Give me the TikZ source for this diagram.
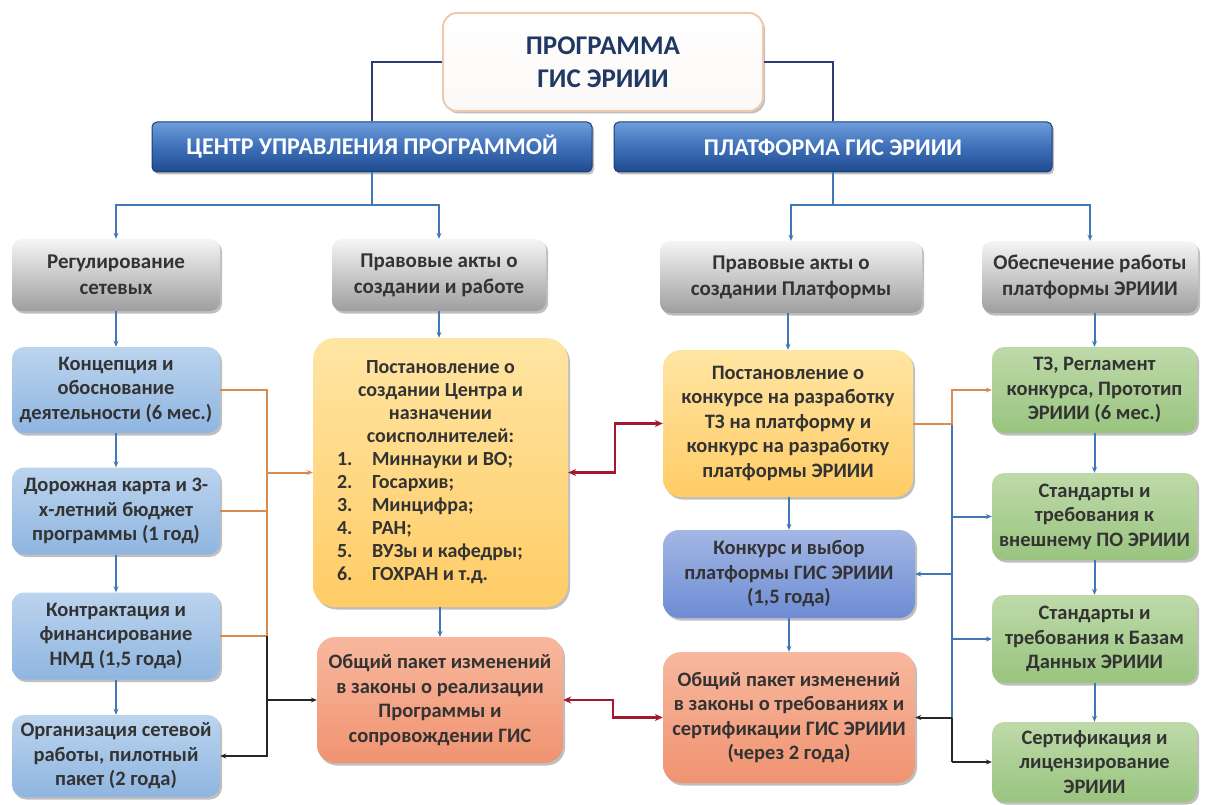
\documentclass[tikz,border=0pt]{standalone}
\usepackage{fontspec}
\setmainfont{Carlito}
\usetikzlibrary{arrows.meta,shadows}
\definecolor{navy}{HTML}{2E3A78}
\definecolor{topt}{HTML}{1F3864}
\definecolor{txt}{HTML}{333333}
\definecolor{conblue}{HTML}{3F78B4}
\definecolor{conora}{HTML}{D98A4E}
\definecolor{conblk}{HTML}{262626}
\definecolor{conred}{HTML}{A3172F}
\definecolor{hdtop}{HTML}{6E9DDB}
\definecolor{hdmid}{HTML}{3E70B9}
\definecolor{hdbot}{HTML}{1F4B8E}
\definecolor{hdline}{HTML}{1B3D74}
\definecolor{grtop}{HTML}{F5F5F5}
\definecolor{grmid}{HTML}{D6D6D6}
\definecolor{grbot}{HTML}{9E9E9E}
\definecolor{lbtop}{HTML}{BBD4EE}
\definecolor{lbbot}{HTML}{8FB5E0}
\definecolor{yetop}{HTML}{FFE5A3}
\definecolor{yebot}{HTML}{FFCC66}
\definecolor{satop}{HTML}{F8B89E}
\definecolor{sabot}{HTML}{F09371}
\definecolor{putop}{HTML}{A3B7E4}
\definecolor{pubot}{HTML}{6E8CD4}
\definecolor{gntop}{HTML}{BEDAA9}
\definecolor{gnbot}{HTML}{99C47F}
\begin{document}
\begin{tikzpicture}[x=1pt,y=-1pt,
  shad/.style={drop shadow={shadow xshift=2pt,shadow yshift=-2.5pt,opacity=0.25,fill=black}},
  basebox/.style={rounded corners=12pt, align=center, inner sep=4pt, text=txt,
     font=\bfseries\fontsize{20.5}{24.5}\selectfont, shad},
  topbox/.style={basebox, rounded corners=14pt, draw=conora!45, line width=2pt,
     top color=white, bottom color=grtop!80!conora!20, text=topt,
     font=\bfseries\fontsize{27}{33}\selectfont},
  hdbox/.style={rounded corners=5pt, draw=hdline, line width=1pt, text=white,
     top color=hdtop, bottom color=hdbot, middle color=hdmid,
     font=\bfseries\fontsize{24}{28}\selectfont, shad, inner sep=3pt},
  greybox/.style={basebox, rounded corners=10pt, top color=grtop, middle color=grmid, bottom color=grbot,
     font=\bfseries\fontsize{21}{26}\selectfont},
  lbbox/.style={basebox, top color=lbtop, bottom color=lbbot},
  yebox/.style={basebox, rounded corners=22pt, top color=yetop, bottom color=yebot},
  sabox/.style={basebox, rounded corners=18pt, top color=satop, bottom color=sabot},
  pubox/.style={basebox, rounded corners=16pt, top color=putop, bottom color=pubot},
  gnbox/.style={basebox, top color=gntop, bottom color=gnbot},
  tip/.style={-{Stealth[length=6pt,width=5pt]}},
  navyline/.style={draw=navy, line width=2.4pt},
  bline/.style={draw=conblue, line width=2pt},
  oline/.style={draw=conora, line width=2pt},
  kline/.style={draw=conblk, line width=2pt},
  rline/.style={draw=conred, line width=2.4pt, {Stealth[length=8pt,width=7pt]}-{Stealth[length=8pt,width=7pt]}}
]
\useasboundingbox (0,0) rectangle (1208,805);

% top
\node[topbox, minimum width=320pt, minimum height=98pt] (top) at (603,62) {ПРОГРАММА\\ГИС ЭРИИИ};
\node[hdbox, minimum width=440pt, minimum height=50pt] (h1) at (372,147) {ЦЕНТР УПРАВЛЕНИЯ ПРОГРАММОЙ};
\node[hdbox, minimum width=438pt, minimum height=50pt] (h2) at (833,147) {ПЛАТФОРМА ГИС ЭРИИИ};

% grey row
\node[greybox, minimum width=208pt, minimum height=72pt] (reg) at (116,275) {Регулирование\\сетевых};
\node[greybox, minimum width=214pt, minimum height=72pt] (pa1) at (439,275) {Правовые акты о\\создании и работе};
\node[greybox, minimum width=262pt, minimum height=72pt] (pa2) at (791,277) {Правовые акты о\\создании Платформы};
\node[greybox, minimum width=216pt, minimum height=72pt] (obs) at (1090,277) {Обеспечение работы\\платформы ЭРИИИ};

% left column
\node[lbbox, minimum width=208pt, minimum height=86pt] (konc) at (116,390) {Концепция и\\обоснование\\деятельности (6 мес.)};
\node[lbbox, minimum width=208pt, minimum height=87pt] (dor) at (116,511) {Дорожная карта и 3-\\х-летний бюджет\\программы (1 год)};
\node[lbbox, minimum width=208pt, minimum height=87pt] (kontr) at (116,636) {Контрактация и\\финансирование\\НМД (1,5 года)};
\node[lbbox, minimum width=208pt, minimum height=82pt] (org) at (116,756) {Организация сетевой\\работы, пилотный\\пакет (2 года)};

% middle left
\node[yebox, minimum width=255pt, minimum height=269pt, text width=237pt, align=left, inner sep=0pt,
      font=\bfseries\fontsize{20}{23}\selectfont] (post1) at (440.5,472.5) {%
  \spaceskip=0pt\xspaceskip=0pt
  {\centering Постановление о\\создании Центра и\\назначении\\соисполнителей:\par}%
  \raggedright\spaceskip=0pt\xspaceskip=0pt
  \hspace*{15pt}\makebox[35pt][l]{1.}Миннауки и ВО;\\
  \hspace*{15pt}\makebox[35pt][l]{2.}Госархив;\\
  \hspace*{15pt}\makebox[35pt][l]{3.}Минцифра;\\
  \hspace*{15pt}\makebox[35pt][l]{4.}РАН;\\
  \hspace*{15pt}\makebox[35pt][l]{5.}ВУЗы и кафедры;\\
  \hspace*{15pt}\makebox[35pt][l]{6.}ГОХРАН и т.д.\par};
\node[sabox, minimum width=246pt, minimum height=126pt] (sal1) at (440,700) {Общий пакет изменений\\в законы о реализации\\Программы и\\сопровождении ГИС};

% middle right
\node[yebox, rounded corners=18pt, minimum width=250pt, minimum height=147pt] (post2) at (788,423.5) {Постановление о\\конкурсе на разработку\\ТЗ на платформу и\\конкурс на разработку\\платформы ЭРИИИ};
\node[pubox, minimum width=252pt, minimum height=88pt] (kon) at (789,574) {Конкурс и выбор\\платформы ГИС ЭРИИИ\\(1,5 года)};
\node[sabox, minimum width=252pt, minimum height=131pt] (sal2) at (789,717.5) {Общий пакет изменений\\в законы о требованиях и\\сертификации ГИС ЭРИИИ\\(через 2 года)};

% right column
\node[gnbox, minimum width=205pt, minimum height=86pt] (g1) at (1094.5,390) {ТЗ, Регламент\\конкурса, Прототип\\ЭРИИИ (6 мес.)};
\node[gnbox, minimum width=205pt, minimum height=87pt] (g2) at (1094.5,516.5) {Стандарты и\\требования к\\внешнему ПО ЭРИИИ};
\node[gnbox, minimum width=205pt, minimum height=88pt] (g3) at (1094.5,639) {Стандарты и\\требования к Базам\\Данных ЭРИИИ};
\node[gnbox, minimum width=205pt, minimum height=80pt] (g4) at (1094.5,762) {Сертификация и\\лицензирование\\ЭРИИИ};

% top connectors
\draw[navyline] (top.west) -| (h1.north);
\draw[navyline] (top.east) -| (h2.north);

% tree connectors
\coordinate (j1) at (372,205);
\coordinate (j2) at (833,205);
\draw[bline] (h1.south) -- (j1);
\draw[bline,tip] (j1) -| (reg.north);
\draw[bline,tip] (j1) -| (pa1.north);
\draw[bline] (h2.south) -- (j2);
\draw[bline,tip] (j2) -| (pa2.north);
\draw[bline,tip] (j2) -| (obs.north);

% vertical chains
\draw[bline,tip] (reg.south) -- (konc.north);
\draw[bline,tip] (konc.south) -- (dor.north);
\draw[bline,tip] (dor.south) -- (kontr.north);
\draw[bline,tip] (kontr.south) -- (org.north);
\draw[bline,tip] (pa1.south) -- (pa1.south |- post1.north);
\draw[bline,tip] (post1.south -| sal1.north) -- (sal1.north);
\draw[bline,tip] (pa2.south -| post2.north) -- (post2.north);
\draw[bline,tip] (post2.south -| kon.north) -- (kon.north);
\draw[bline,tip] (kon.south) -- (sal2.north);
\draw[bline,tip] (obs.south -| g1.north) -- (g1.north);
\draw[bline,tip] (g1.south) -- (g2.north);
\draw[bline,tip] (g2.south) -- (g3.north);
\draw[bline,tip] (g3.south) -- (g4.north);

% left bus
\coordinate (lbx) at (267,0);
\draw[oline] (konc.east) -- (konc.east -| lbx) -- (kontr.east -| lbx) -- (kontr.east);
\draw[oline] (dor.east) -- (dor.east -| lbx);
\draw[oline,tip] (post1.west -| lbx) -- (post1.west);
\draw[kline,tip] (kontr.east -| lbx) -- (org.east -| lbx) -- (org.east);
\draw[kline,tip] (sal1.west -| lbx) -- (sal1.west);

% right bus
\coordinate (rbx) at (952,0);
\draw[bline] (post2.east -| rbx) -- (sal2.east -| rbx);
\draw[oline,tip] (post2.east) -- (post2.east -| rbx) -- (g1.west -| rbx) -- (g1.west);
\draw[bline,tip] (g2.west -| rbx) -- (g2.west);
\draw[bline,tip] (kon.east -| rbx) -- (kon.east);
\draw[bline,tip] (g3.west -| rbx) -- (g3.west);
\draw[kline] (sal2.east -| rbx) -- (g4.west -| rbx);
\draw[kline,tip] (sal2.east -| rbx) -- (sal2.east);
\draw[kline,tip] (g4.west -| rbx) -- (g4.west);

% red links
\coordinate (r1) at (615,0);
\coordinate (r2) at (613,0);
\draw[rline] (post1.east) -- (post1.east -| r1) -- (post2.west -| r1) -- (post2.west);
\draw[rline] (sal1.east) -- (sal1.east -| r2) -- (sal2.west -| r2) -- (sal2.west);
\end{tikzpicture}
\end{document}
